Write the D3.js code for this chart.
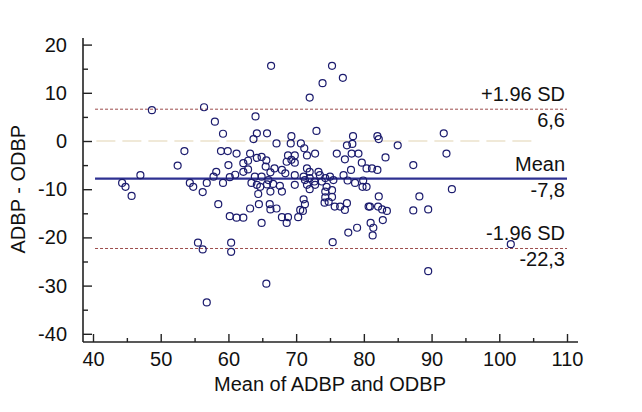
<!DOCTYPE html>
<html><head><meta charset="utf-8">
<script src="https://cdn.jsdelivr.net/npm/d3@7"></script>
<style>
html,body{margin:0;padding:0;background:#fff;}
svg{display:block;font-family:"Liberation Sans",Arial,sans-serif;}
</style></head>
<body>
<svg id="chart" width="642" height="412"></svg>
<script>
// Mean of ADBP and ODBP
const meanVals = [
44.3,44.8,45.7,47.0,48.7,53.5,52.5,54.3,54.8,56.2,56.8,56.4,58.0,59.2,58.5,55.5,56.2,60.4,60.4,56.8,
65.6,57.8,58.2,59.2,58.9,59.9,60.0,61.2,61.0,60.2,62.2,62.2,62.9,62.9,63.2,64.0,64.2,65.7,63.7,67.1,
64.2,64.9,65.6,65.5,66.8,66.2,63.9,64.9,63.4,64.2,64.7,65.9,65.7,66.6,64.4,66.2,63.2,64.5,66.1,66.2,
67.1,60.2,61.2,62.2,64.9,66.3,75.3,76.9,73.9,72.0,73.0,69.3,78.4,82.0,82.2,69.2,70.7,71.2,77.5,78.3,
68.8,69.8,71.6,72.8,76.0,77.2,78.2,79.2,68.6,69.3,69.8,79.7,80.4,67.9,68.4,71.6,72.0,73.3,73.5,78.1,
77.0,69.8,71.1,72.0,75.0,75.5,74.3,73.8,72.7,72.8,71.3,71.6,67.6,67.9,69.8,72.0,74.5,74.3,75.3,77.6,
78.7,79.9,79.8,80.4,74.3,74.8,74.2,75.3,71.1,71.3,70.6,77.5,76.5,75.7,77.2,80.9,68.8,70.3,67.9,68.6,
71.0,79.0,77.7,75.4,82.0,81.2,83.2,85.0,87.3,91.8,92.2,93.0,82.2,88.2,80.7,82.1,82.7,83.4,87.3,89.5,
82.8,81.0,81.4,81.3,89.5,101.7
];
// ADBP - ODBP
const diffVals = [
-8.7,-9.5,-11.4,-7.1,6.4,-2.1,-5.1,-8.7,-9.5,-10.6,-8.7,7.0,4.0,1.5,-13.1,-21.1,-22.5,-21.1,-23.0,-33.5,
-29.6,-7.4,-6.4,-8.7,-2.1,-2.1,-5.0,-2.6,-7.0,-7.5,-4.6,-6.4,-5.9,-4.1,-2.6,5.1,1.6,1.6,0.4,-0.5,
-3.5,-3.3,-4.0,-5.3,-5.7,-6.5,-7.4,-7.4,-8.7,-9.1,-9.5,-8.1,-9.0,-8.9,-11.0,-10.5,-14.0,-13.1,-13.1,-14.2,
-14.0,-15.6,-15.9,-15.9,-17.0,15.6,15.6,13.1,12.0,9.0,2.1,1.0,1.0,1.0,0.4,-0.5,-0.5,-1.5,-0.9,-0.6,
-3.0,-3.0,-3.0,-2.6,-2.6,-3.8,-2.6,-2.6,-4.3,-3.9,-4.5,-4.5,-5.7,-6.0,-6.7,-5.7,-6.4,-6.4,-7.1,-6.0,
-7.1,-7.1,-7.4,-7.7,-7.4,-8.1,-7.7,-8.4,-8.4,-9.1,-8.1,-9.1,-9.3,-10.5,-9.1,-10.0,-9.5,-10.5,-10.2,-8.2,
-8.7,-8.2,-9.5,-9.5,-11.7,-12.6,-12.8,-11.6,-12.1,-13.1,-14.3,-12.9,-13.6,-13.6,-14.3,-13.6,-15.8,-15.8,-15.8,-17.0,
-14.5,-18.0,-19.0,-21.0,-6.0,-5.7,-3.4,-0.9,-5.0,1.6,-2.6,-10.0,-11.5,-11.5,-13.6,-13.6,-14.2,-14.5,-14.4,-14.2,
-16.4,-17.0,-18.0,-19.6,-27.0,-21.4
];
const meanDiff = -7.8, upperLoA = 6.6, lowerLoA = -22.3;
const refLines = [
  {value: upperLoA, top: "+1.96 SD", bottom: "6,6", kind: "sd"},
  {value: meanDiff, top: "Mean", bottom: "-7,8", kind: "mean"},
  {value: lowerLoA, top: "-1.96 SD", bottom: "-22,3", kind: "sd"}
];
const xTicks = [40,50,60,70,80,90,100,110];
const yTicks = [20,10,0,-10,-20,-30,-40];
const xTitle = "Mean of ADBP and ODBP";
const yTitle = "ADBP - ODBP";

const svg = d3.select("#chart");
const x = d3.scaleLinear().domain([40,110]).range([93,567]);
const y = d3.scaleLinear().domain([-40,20]).range([333.8,44.6]);
const axisX = 83, axisY = 342;
const axisColor = "#222";
const fontSize = 20;
const fmt = d => String(d);

// zero line
svg.append("line")
  .attr("x1", x(40.5)).attr("x2", x(105.5))
  .attr("y1", y(0)).attr("y2", y(0))
  .attr("stroke", "#e2d3b2").attr("stroke-width", 1.2)
  .attr("stroke-dasharray", "19,7");

// reference lines
refLines.forEach(r => {
  const g = svg.append("g");
  g.append("line")
    .attr("x1", x(40.3)).attr("x2", x(110))
    .attr("y1", y(r.value)).attr("y2", y(r.value))
    .attr("stroke", r.kind === "mean" ? "#2e3192" : "#9b4a4a")
    .attr("stroke-width", r.kind === "mean" ? 2.2 : 1)
    .attr("stroke-dasharray", r.kind === "mean" ? null : "3,2");
  g.append("text").attr("x", x(110) - 2).attr("y", y(r.value) - 8)
    .attr("text-anchor", "end").attr("font-size", fontSize).attr("fill", "#111").text(r.top);
  g.append("text").attr("x", x(110) - 2).attr("y", y(r.value) + 18)
    .attr("text-anchor", "end").attr("font-size", fontSize).attr("fill", "#111").text(r.bottom);
});

// points
svg.append("g").selectAll("circle")
  .data(meanVals.map((m,i) => [m, diffVals[i]]))
  .join("circle")
  .attr("cx", d => x(d[0])).attr("cy", d => y(d[1]))
  .attr("r", 3.5).attr("fill", "none")
  .attr("stroke", "#1c1c6e").attr("stroke-width", 1.2);

// axes
const gx = svg.append("g").attr("transform", `translate(0,${axisY})`);
gx.call(d3.axisBottom(x).tickValues(xTicks).tickSize(-8).tickPadding(10).tickFormat(fmt));
const gxm = svg.append("g").attr("transform", `translate(0,${axisY})`);
gxm.call(d3.axisBottom(x).tickValues(d3.range(45,110,10)).tickSize(-4).tickFormat(""));
const gy = svg.append("g").attr("transform", `translate(${axisX},0)`);
gy.call(d3.axisLeft(y).tickValues(yTicks).tickSize(-9).tickPadding(16).tickFormat(fmt));
const gym = svg.append("g").attr("transform", `translate(${axisX},0)`);
gym.call(d3.axisLeft(y).tickValues(d3.range(-35,20,10)).tickSize(-5).tickFormat(""));
[gx,gxm,gy,gym].forEach(g => {
  g.select(".domain").remove();
  g.selectAll("line").attr("stroke", axisColor).attr("stroke-width", 1.4);
  g.selectAll("text").attr("font-size", fontSize).attr("fill", "#111")
    .attr("font-family", '"Liberation Sans",Arial,sans-serif');
});
// axis frame lines
svg.append("line").attr("x1", axisX).attr("x2", axisX).attr("y1", 38).attr("y2", axisY)
  .attr("stroke", axisColor).attr("stroke-width", 1.6);
svg.append("line").attr("x1", axisX).attr("x2", 578).attr("y1", axisY).attr("y2", axisY)
  .attr("stroke", axisColor).attr("stroke-width", 1.6);

// titles
svg.append("text").attr("x", x(75)).attr("y", 391)
  .attr("text-anchor", "middle").attr("font-size", 20).attr("fill", "#111").text(xTitle);
svg.append("text").attr("transform", `translate(25,${y(-10)}) rotate(-90)`)
  .attr("text-anchor", "middle").attr("font-size", 20).attr("fill", "#111").text(yTitle);
</script>
</body></html>
